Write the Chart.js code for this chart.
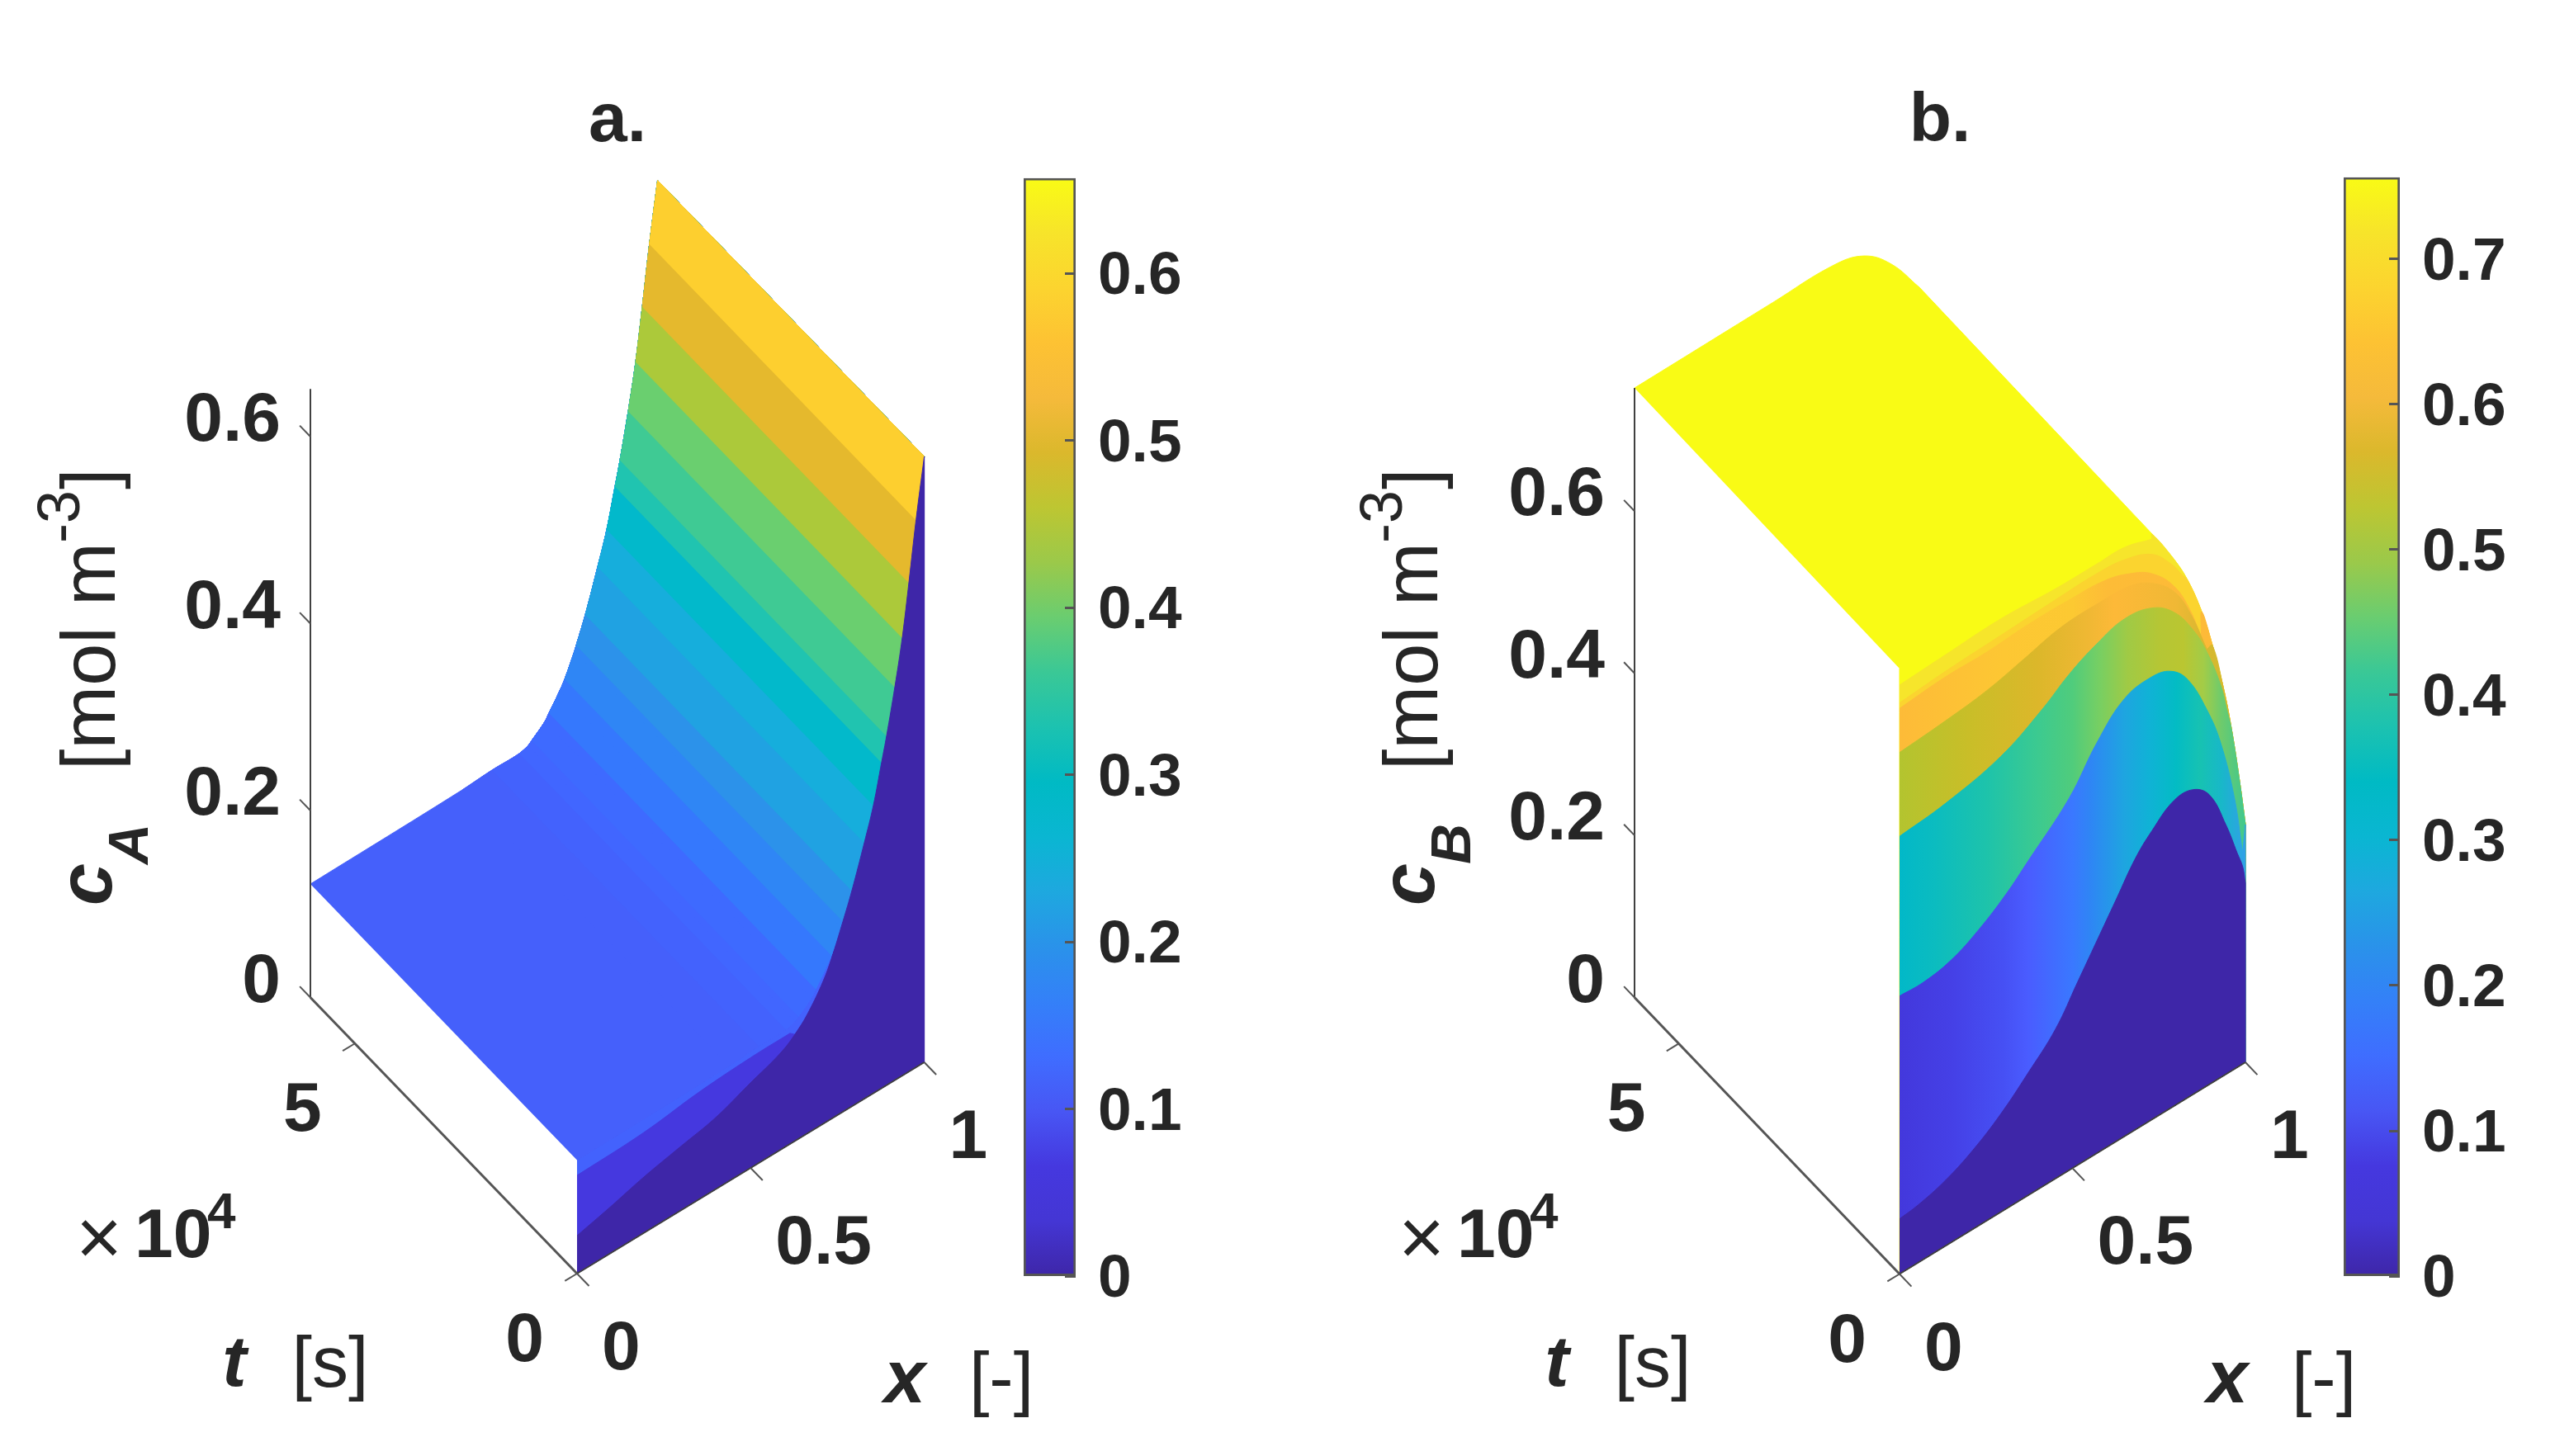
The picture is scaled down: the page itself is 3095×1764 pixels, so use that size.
<!DOCTYPE html>
<html>
<head>
<meta charset="utf-8">
<title>cA and cB surfaces</title>
<script src="https://cdn.jsdelivr.net/npm/chart.js@4"></script>
<style>
  html, body { margin: 0; padding: 0; background: #fff; }
  canvas { position: absolute; }
</style>
</head>
<body>
<canvas id="surfA" style="left:0;top:0" width="1300" height="1764"></canvas>
<canvas id="barA" style="left:1239px;top:132px" width="214" height="1498"></canvas>
<canvas id="surfB" style="left:1560px;top:0" width="1340" height="1764"></canvas>
<canvas id="barB" style="left:2838px;top:131px" width="219" height="1499"></canvas>
<script>
const xTicks = [0, 0.5, 1];
const tTicks = [0, 5];          // x 10^4 s
const tMax = 6;
const cTicks = [0, 0.2, 0.4, 0.6];
const barTicksA = [0, 0.1, 0.2, 0.3, 0.4, 0.5, 0.6];
const barTicksB = [0, 0.1, 0.2, 0.3, 0.4, 0.5, 0.6, 0.7];
const barMaxA = 0.657;
const barMaxB = 0.756;
const axisTopA = 0.651;
const axisTopB = 0.752;

// panel a: cA profile along x, same for all t once the start-up is over
const profileXA = [0, 0.4375, 0.523, 0.6015, 0.6277, 0.6372, 0.6752, 0.6871, 0.718, 0.7323, 0.7608, 0.7656, 0.7917, 0.8274, 0.8535, 0.8773, 0.8916, 0.9154, 0.9368, 0.956, 0.9765, 1];
const profileCA = [0.1214, 0.1232, 0.125, 0.125, 0.1279, 0.1307, 0.1425, 0.1489, 0.1657, 0.1748, 0.1985, 0.2035, 0.2303, 0.2734, 0.3074, 0.348, 0.373, 0.42, 0.468, 0.5226, 0.585, 0.648];
const bandColorsA = ["#4560fb", "#4560fb", "#4362fd", "#4166ff", "#4166ff", "#3e6aff", "#3e6aff", "#3578fd", "#3578fd", "#2f86f5", "#2f86f5", "#2c92ea", "#20a2e2", "#16aedc", "#02b9cb", "#20c4b0", "#3fca94", "#6acf6f", "#acc93a", "#e5b92d", "#fdcf2f"];
// start-up wall of panel a (t = 0)
const wedgeXA = [0, 0.1926, 0.3519, 0.5088, 0.6134];
const wedgeCA = [0.105, 0.1075, 0.1147, 0.1181, 0.1184];
const wallXA = [0, 0.0975, 0.1926, 0.2957, 0.3994, 0.4945, 0.5896, 0.6372, 0.6681, 0.7085, 0.7323, 0.7656, 0.7917, 0.8274, 0.8535, 0.8773, 0.8916, 0.9154, 0.9368, 0.956, 0.9765, 1];
const wallCA = [0.0406, 0.0498, 0.0598, 0.0683, 0.0767, 0.0904, 0.1042, 0.1173, 0.1298, 0.1524, 0.171, 0.2035, 0.231, 0.274, 0.308, 0.349, 0.374, 0.421, 0.469, 0.524, 0.586, 0.648];

// panel b: far edge of the plateau and the front silhouette
const farXB = [0, 0.2, 0.4, 0.5728, 0.6635, 0.7422, 0.8234];
const farCB = [0.752, 0.7525, 0.753, 0.7532, 0.7416, 0.711, 0.6611];
const edgeXB = [0.7303, 0.7924, 0.8329, 0.8735, 0.9045, 0.9356, 0.9594, 0.9833, 1];
const edgeCB = [0.7222, 0.6754, 0.6384, 0.589, 0.5395, 0.48, 0.4225, 0.3506, 0.2933];
// colour band limits on the front of panel b
const paleXB = [0, 0.1329, 0.292, 0.4511, 0.5704, 0.65, 0.7295];
const paleCB = [0.7266, 0.7292, 0.7318, 0.7276, 0.727, 0.7266, 0.716];
const goldXB = [0, 0.1329, 0.292, 0.4511, 0.5704, 0.65, 0.7295, 0.7852, 0.817];
const goldCB = [0.7045, 0.7088, 0.7114, 0.714, 0.7151, 0.7113, 0.6973, 0.6709, 0.6489];
const orangeXB = [0, 0.1329, 0.2522, 0.3715, 0.4909, 0.5943, 0.6659, 0.7295, 0.7932, 0.8409, 0.8727];
const orangeCB = [0.6977, 0.702, 0.7014, 0.7042, 0.7036, 0.7004, 0.6901, 0.6735, 0.6415, 0.5986, 0.5564];
const oliveXB = [0, 0.1329, 0.2522, 0.3556, 0.467, 0.5784, 0.6659, 0.7295, 0.7932, 0.8409, 0.8886];
const oliveCB = [0.6434, 0.6478, 0.6539, 0.6643, 0.6759, 0.6773, 0.6748, 0.6616, 0.6347, 0.5952, 0.5386];
const greenXB = [0, 0.1329, 0.292, 0.4113, 0.4909, 0.5704, 0.65, 0.7295, 0.7932, 0.8488, 0.8886, 0.9284, 0.9483];
const greenCB = [0.5399, 0.5459, 0.562, 0.5886, 0.6119, 0.6285, 0.6383, 0.6311, 0.6093, 0.5728, 0.5352, 0.4841, 0.445];
const tealXB = [0, 0.0692, 0.1488, 0.2283, 0.3079, 0.3715, 0.4909, 0.5704, 0.65, 0.7295, 0.7852, 0.8329, 0.8886, 0.9284, 0.9682, 0.992];
const tealCB = [0.343, 0.3419, 0.3483, 0.3648, 0.3882, 0.4123, 0.4592, 0.5063, 0.5398, 0.5462, 0.5385, 0.5159, 0.464, 0.4128, 0.3345, 0.2605];
const blueXB = [0, 0.0533, 0.1329, 0.2124, 0.292, 0.3715, 0.4511, 0.5147, 0.5704, 0.6261, 0.6818, 0.7295, 0.7932, 0.8488, 0.8966, 0.9443, 0.9761, 0.992, 1];
const blueCB = [0.068, 0.0711, 0.0809, 0.0975, 0.1208, 0.1509, 0.1844, 0.2256, 0.2619, 0.2983, 0.3346, 0.3561, 0.3768, 0.3759, 0.3566, 0.3068, 0.2646, 0.2435, 0.221];

const barColors = ["#3e26a8", "#4436d4", "#4538df", "#4856f4", "#3f6dff", "#3480f8", "#2a92ea", "#1ea8df", "#0ab6d2", "#00bac4", "#1cc2b0", "#3ac896", "#6acd70", "#9bc94a", "#bdc632", "#dbb82c", "#f5ba3b", "#fdc233", "#fcd42f", "#f7e42a", "#f9fb15"];

const DARK = "#3e26a8";
const INK = "#262626";
const FONT = '"Liberation Sans", Arial, sans-serif';

const panelA = { ox: 699, oy: 1543, xv: [420.6, -256], tv: [-323, -334.5], cs: 1132.5, left: 0, width: 1300, dx: 0 };
const panelB = { ox: 2301, oy: 1543.5, xv: [419, -256.5], tv: [-321, -335], cs: 982, left: 1560, width: 1340, dx: 1602 };

function project(p, x, t, c) {
  return {
    x: p.ox + x * p.xv[0] + (t / tMax) * p.tv[0],
    y: p.oy + x * p.xv[1] + (t / tMax) * p.tv[1] - c * p.cs
  };
}

function wallPts(xs, cs) {
  return xs.map((x, i) => [x, 0, cs[i]]);
}

// a repeated point keeps a sharp corner when the outline is drawn with tension
function corner(q) {
  return [q, q];
}

function poly(p, pts, color, stops) {
  const paint = stops
    ? ctx => {
        const g = ctx.chart.ctx.createLinearGradient(p.ox - p.left, 0, p.ox - p.left + p.xv[0], 0);
        stops.forEach(st => g.addColorStop(st[0], st[1]));
        return g;
      }
    : color;
  return {
    data: pts.map(q => project(p, q[0], q[1], q[2])),
    showLine: true,
    fill: "shape",
    tension: 0.4,
    backgroundColor: paint,
    borderColor: paint,
    borderWidth: 1,
    pointRadius: 0
  };
}

function stroke(p, a, b, color, width) {
  return {
    data: [project(p, a[0], a[1], a[2]), project(p, b[0], b[1], b[2])],
    showLine: true,
    fill: false,
    borderColor: color,
    borderWidth: width,
    pointRadius: 0
  };
}

function axesSets(p, top) {
  const out = [];
  out.push(stroke(p, [0, tMax, 0], [0, tMax, top], "#404040", 2));
  out.push(stroke(p, [0, tMax, 0], [0, 0, 0], "#555555", 3));
  out.push(stroke(p, [0, 0, 0], [1, 0, 0], "#404040", 2));
  cTicks.forEach(v => out.push(stroke(p, [0, tMax, v], [0, tMax * 1.04, v], "#555555", 2)));
  tTicks.forEach(v => out.push(stroke(p, [0, v, 0], [-0.035, v, 0], "#555555", 2)));
  xTicks.forEach(v => out.push(stroke(p, [v, 0, 0], [v, -tMax * 0.045, 0], "#555555", 2)));
  return out;
}

function baseClose(pts) {
  const last = pts[pts.length - 1];
  return [...pts, ...corner(last), ...corner([1, 0, 0]), ...corner([0, 0, 0])];
}

function surfaceA(p) {
  const out = [];
  const front = wallPts(profileXA, profileCA);
  // behind everything, so no white shows between the front edge and the wall
  out.push(poly(p, baseClose(front), DARK));
  // blue lip from the front edge of the surface down to the wedge and the wall
  const lipTop = wallPts(profileXA.slice(0, 10), profileCA.slice(0, 10));
  const lipBack = wallPts(wallXA.slice(6, 11), wallCA.slice(6, 11)).reverse();
  out.push(poly(p, [...lipTop, ...corner(lipTop[lipTop.length - 1]), ...lipBack, ...corner(lipBack[lipBack.length - 1]), [0, 0, wedgeCA[0]]], "#4362fd"));
  // each band runs from its x up to the x = 1 end, the next one paints over it
  bandColorsA.forEach((col, i) => {
    const farEdge = profileXA.slice(i).map((x, j) => [x, tMax, profileCA[i + j]]);
    const nearEdge = profileXA.slice(i).map((x, j) => [x, 0, profileCA[i + j]]).reverse();
    out.push(poly(p, [...farEdge, ...corner(farEdge[farEdge.length - 1]), ...corner(nearEdge[0]), ...nearEdge], col));
  });
  out.push(poly(p, baseClose(wallPts(wedgeXA, wedgeCA)), "#4538df"));
  out.push(poly(p, baseClose(wallPts(wallXA, wallCA)), DARK));
  return out;
}

function closeOnEdge(xs, cs) {
  const last = xs[xs.length - 1];
  const curve = wallPts(xs, cs);
  const rest = edgeXB.map((x, i) => [x, 0, edgeCB[i]]).filter(q => q[0] > last);
  return baseClose([...curve, ...corner(curve[curve.length - 1]), ...rest]);
}

function surfaceB(p) {
  const out = [];
  const far = farXB.map((x, i) => [x, tMax, farCB[i]]);
  const edge = edgeXB.map((x, i) => [x, 0, edgeCB[i]]);
  const plateau = [...far, ...corner(far[far.length - 1]), ...corner(edge[0]), ...edge.slice(1), ...corner([1, 0, edgeCB[edgeCB.length - 1]]), ...corner([1, 0, 0]), ...corner([0, 0, 0]), ...corner([0, 0, 0.747])];
  out.push(poly(p, plateau, "#f9fb15"));
  out.push(poly(p, closeOnEdge(paleXB, paleCB), "#f6e52b"));
  out.push(poly(p, closeOnEdge(goldXB, goldCB), "#fbd42f"));
  out.push(poly(p, closeOnEdge(orangeXB, orangeCB), null, [[0, "#fdbb38"], [0.3, "#fdc733"], [0.5, "#fcc932"], [0.6, "#fdbc37"], [1, "#fdb938"]]));
  out.push(poly(p, closeOnEdge(oliveXB, oliveCB), null, [[0, "#b3c42f"], [0.2, "#c9be28"], [0.4, "#dcb72a"], [0.55, "#f0b834"], [0.62, "#fdb938"], [0.8, "#f0b835"], [0.88, "#d7b82f"], [1, "#d0bc2e"]]));
  out.push(poly(p, closeOnEdge(greenXB, greenCB), null, [[0, "#02b8c8"], [0.1, "#0bbcc0"], [0.25, "#1dc3ab"], [0.4, "#3cca90"], [0.5, "#50cc7c"], [0.58, "#78cf62"], [0.66, "#a0ca45"], [0.75, "#b5c635"], [0.82, "#bac631"], [0.88, "#a2cc48"], [0.93, "#6ecb6c"], [1, "#3fc88f"]]));
  out.push(poly(p, closeOnEdge(tealXB, tealCB), null, [[0, "#4338dc"], [0.15, "#4540e6"], [0.3, "#4650f4"], [0.37, "#4a5cff"], [0.5, "#3a78ff"], [0.55, "#2f85f5"], [0.65, "#1ea5e0"], [0.72, "#10b2d6"], [0.8, "#03bcc4"], [0.87, "#17c2b2"], [0.93, "#18b8c8"], [1, "#30a0e8"]]));
  out.push(poly(p, baseClose(wallPts(blueXB, blueCB)), DARK));
  return out;
}

function textsFor(p, title, sub) {
  const d = p.dx;
  const out = [];
  const tick = `bold 84px ${FONT}`;
  out.push({ s: title, x: 748 + d, y: 148, font: tick, align: "center", base: "middle" });
  cTicks.forEach(v => {
    const q = project(p, 0, tMax, v);
    out.push({ s: String(v), x: q.x - 36, y: q.y - 18, font: tick, align: "right", base: "middle" });
  });
  tTicks.forEach(v => {
    const q = project(p, 0, v, 0);
    out.push({ s: String(v), x: q.x - 40, y: q.y + 83, font: tick, align: "right", base: "middle" });
  });
  xTicks.forEach(v => {
    const q = project(p, v, 0, 0);
    out.push({ s: String(v), x: q.x + 30, y: q.y + 93, font: tick, align: "left", base: "middle" });
  });
  out.push({ s: "×", x: 120 + d, y: 1506, font: `96px ${FONT}`, align: "center", base: "middle" });
  out.push({ s: "10", x: 163 + d, y: 1500, font: tick, align: "left", base: "middle" });
  out.push({ s: "4", x: 251 + d, y: 1471, font: `bold 62px ${FONT}`, align: "left", base: "middle" });
  out.push({ s: "t", x: 284 + d, y: 1679, font: `italic bold 88px ${FONT}`, align: "center", base: "alphabetic" });
  out.push({ s: "[s]", x: 400 + d, y: 1680, font: `88px ${FONT}`, align: "center", base: "alphabetic" });
  out.push({ s: "x", x: 1096 + d, y: 1699, font: `italic bold 90px ${FONT}`, align: "center", base: "alphabetic" });
  out.push({ s: "[-]", x: 1213 + d, y: 1699, font: `88px ${FONT}`, align: "center", base: "alphabetic" });
  // rotated y label
  out.push({ s: "c", x: 135 + d, y: 1097, font: `italic bold 92px ${FONT}`, align: "left", base: "alphabetic", rot: true });
  out.push({ s: sub, x: 179 + d, y: 1047, font: `italic bold 68px ${FONT}`, align: "left", base: "alphabetic", rot: true });
  out.push({ s: "[mol m", x: 139 + d, y: 933, font: `92px ${FONT}`, align: "left", base: "alphabetic", rot: true });
  out.push({ s: "-3", x: 96 + d, y: 658, font: `72px ${FONT}`, align: "left", base: "alphabetic", rot: true });
  out.push({ s: "]", x: 139 + d, y: 593, font: `92px ${FONT}`, align: "left", base: "alphabetic", rot: true });
  return out;
}

const labelPlugin = {
  id: "labels",
  afterDraw(chart, args, opts) {
    const ctx = chart.ctx;
    const sx = chart.scales.x, sy = chart.scales.y;
    ctx.save();
    ctx.fillStyle = INK;
    opts.items.forEach(it => {
      ctx.save();
      ctx.translate(sx.getPixelForValue(it.x), sy.getPixelForValue(it.y));
      if (it.rot) ctx.rotate(-Math.PI / 2);
      ctx.font = it.font;
      ctx.textAlign = it.align;
      ctx.textBaseline = it.base;
      ctx.fillText(it.s, 0, 0);
      ctx.restore();
    });
    ctx.restore();
  }
};

function drawSurface(id, p, surface, axisTop, title, sub) {
  const sets = [...surface(p), ...axesSets(p, axisTop)];
  sets.forEach((s, i) => { s.order = sets.length - i; });
  new Chart(document.getElementById(id), {
    type: "scatter",
    data: { datasets: sets },
    options: {
      responsive: false,
      animation: false,
      devicePixelRatio: 1,
      layout: { padding: 0 },
      plugins: { legend: { display: false }, tooltip: { enabled: false }, labels: { items: textsFor(p, title, sub) } },
      scales: {
        x: { type: "linear", display: false, min: p.left, max: p.left + p.width },
        y: { type: "linear", display: false, reverse: true, min: 0, max: 1764 }
      }
    },
    plugins: [labelPlugin]
  });
}

function drawBar(id, maxVal, ticks) {
  new Chart(document.getElementById(id), {
    type: "bar",
    data: {
      labels: ["c"],
      datasets: [{
        data: [maxVal],
        backgroundColor: ctx => {
          const area = ctx.chart.chartArea;
          if (!area) return barColors[0];
          const g = ctx.chart.ctx.createLinearGradient(0, area.bottom, 0, area.top);
          barColors.forEach((c, i) => g.addColorStop(i / (barColors.length - 1), c));
          return g;
        },
        borderColor: "#555555",
        borderWidth: 3,
        borderSkipped: false,
        barPercentage: 1,
        categoryPercentage: 1
      }]
    },
    options: {
      responsive: false,
      animation: false,
      devicePixelRatio: 1,
      layout: { padding: { top: 45, bottom: 45, left: 1, right: 0 } },
      plugins: { legend: { display: false }, tooltip: { enabled: false } },
      scales: {
        x: { display: false },
        y: {
          position: "right",
          min: 0,
          max: maxVal,
          afterBuildTicks: s => { s.ticks = ticks.map(v => ({ value: v })); },
          afterFit: s => { s.width = 150; },
          grid: { drawOnChartArea: false, tickLength: -13, tickWidth: 3, tickColor: "#555555", z: 1 },
          border: { display: false },
          ticks: { padding: 40, labelOffset: 5, color: INK, autoSkip: false, font: { family: FONT, weight: "bold", size: 73 }, callback: v => String(v) }
        }
      }
    }
  });
}

drawSurface("surfA", panelA, surfaceA, axisTopA, "a.", "A");
drawSurface("surfB", panelB, surfaceB, axisTopB, "b.", "B");
drawBar("barA", barMaxA, barTicksA);
drawBar("barB", barMaxB, barTicksB);
</script>
</body>
</html>
